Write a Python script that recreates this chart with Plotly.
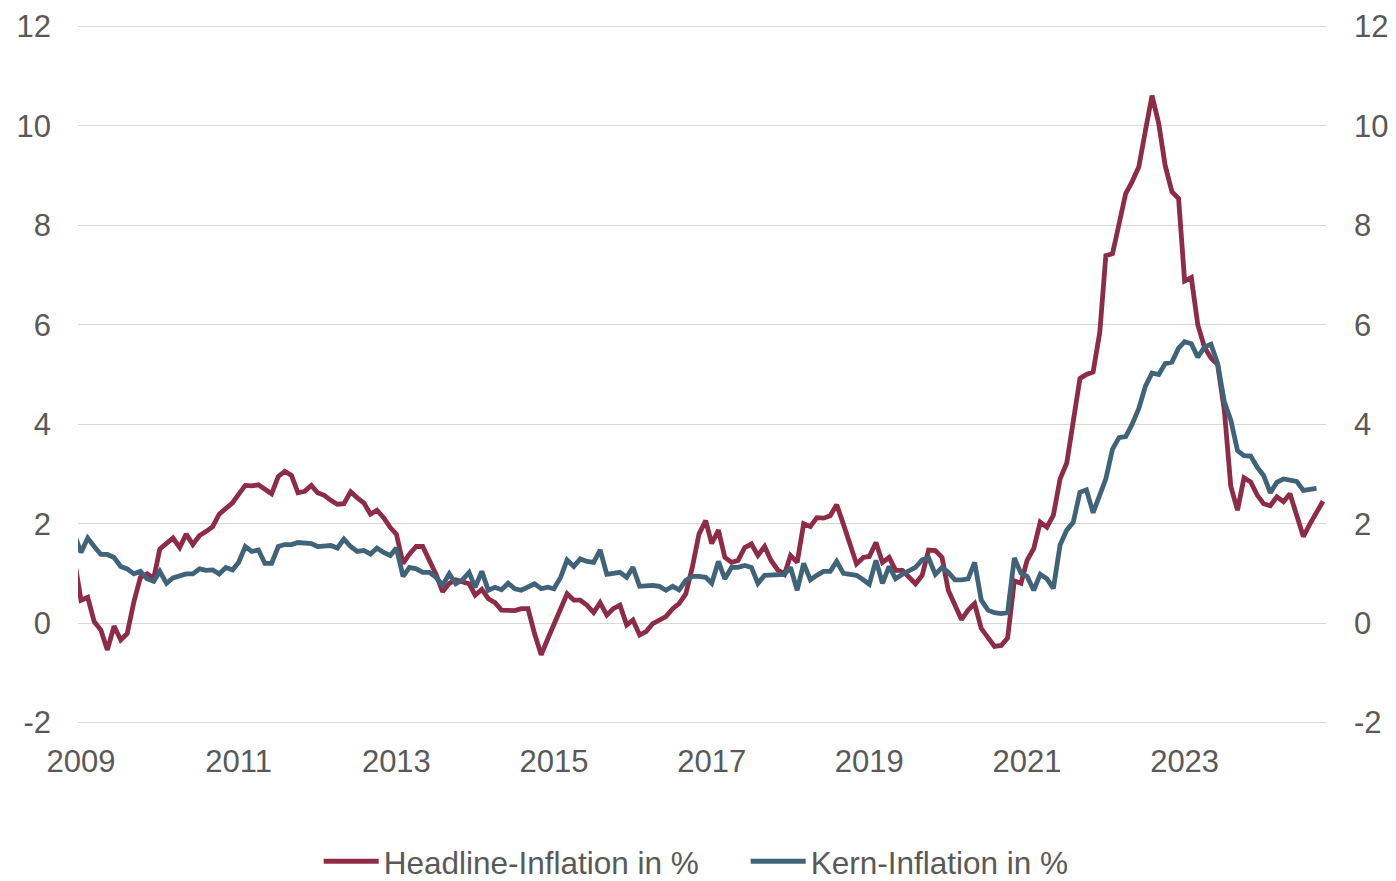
import pandas as pd
import plotly.graph_objects as go

# Monthly values, Jan 2009 onwards
headline = [
    1.1, 1.2, 0.46, 0.52, 0.03, -0.14, -0.54, -0.06, -0.34, -0.21, 0.43, 0.92,   # 2009
    0.99, 0.9, 1.49, 1.59, 1.71, 1.52, 1.79, 1.58, 1.76, 1.84, 1.94, 2.19,       # 2010
    2.31, 2.42, 2.59, 2.77, 2.76, 2.78, 2.69, 2.6, 2.95, 3.05, 2.97, 2.62,       # 2011
    2.65, 2.77, 2.62, 2.57, 2.47, 2.39, 2.4, 2.64, 2.52, 2.42, 2.19, 2.27,       # 2012
    2.12, 1.92, 1.79, 1.2, 1.39, 1.54, 1.54, 1.26, 0.98, 0.63, 0.8, 0.87,        # 2013
    0.82, 0.79, 0.56, 0.68, 0.49, 0.41, 0.26, 0.25, 0.25, 0.29, 0.29, -0.21,     # 2014
    -0.64, -0.31, -0.01, 0.26, 0.59, 0.46, 0.46, 0.36, 0.21, 0.41, 0.16, 0.29,   # 2015
    0.36, -0.04, 0.06, -0.24, -0.17, -0.01, 0.06, 0.13, 0.29, 0.39, 0.59, 1.12,  # 2016
    1.79, 2.06, 1.6, 1.87, 1.32, 1.22, 1.26, 1.52, 1.59, 1.36, 1.54, 1.26,       # 2017
    1.07, 0.98, 1.36, 1.22, 2.0, 1.94, 2.12, 2.11, 2.16, 2.38, 1.99, 1.59,       # 2018
    1.19, 1.32, 1.34, 1.62, 1.22, 1.32, 1.06, 1.06, 0.92, 0.79, 0.96, 1.47,      # 2019
    1.46, 1.32, 0.66, 0.36, 0.07, 0.26, 0.39, -0.11, -0.31, -0.47, -0.45, -0.3,  # 2020
    0.85, 0.8, 1.26, 1.5, 2.03, 1.93, 2.17, 2.9, 3.22, 4.05, 4.92, 5.0,          # 2021
    5.05, 5.85, 7.39, 7.43, 8.05, 8.64, 8.88, 9.18, 9.92, 10.61, 10.05, 9.2,     # 2022
    8.68, 8.54, 6.88, 6.95, 6.0, 5.55, 5.33, 5.2, 4.28, 2.75, 2.27, 2.92,        # 2023
    2.84, 2.57, 2.4, 2.36, 2.54, 2.44, 2.6, 2.17, 1.74, 1.99, 2.22, 2.45,        # 2024
]

core = [
    1.6, 1.75, 1.42, 1.71, 1.54, 1.38, 1.38, 1.32, 1.14, 1.09, 0.99, 1.04,       # 2009
    0.89, 0.84, 1.04, 0.8, 0.91, 0.96, 0.99, 0.99, 1.09, 1.06, 1.07, 0.99,       # 2010
    1.12, 1.07, 1.22, 1.54, 1.44, 1.47, 1.2, 1.2, 1.54, 1.58, 1.58, 1.62,        # 2011
    1.6, 1.6, 1.54, 1.54, 1.56, 1.51, 1.69, 1.54, 1.44, 1.46, 1.39, 1.51,        # 2012
    1.42, 1.36, 1.51, 0.94, 1.12, 1.09, 1.02, 1.02, 0.92, 0.76, 0.99, 0.79,      # 2013
    0.87, 1.02, 0.72, 1.04, 0.66, 0.72, 0.67, 0.8, 0.69, 0.66, 0.72, 0.79,       # 2014
    0.69, 0.72, 0.69, 0.92, 1.27, 1.14, 1.29, 1.24, 1.22, 1.47, 0.98, 1.0,       # 2015
    1.02, 0.92, 1.12, 0.74, 0.76, 0.76, 0.74, 0.66, 0.74, 0.67, 0.86, 0.94,      # 2016
    0.94, 0.92, 0.8, 1.24, 0.89, 1.12, 1.12, 1.16, 1.12, 0.8, 0.96, 0.96,        # 2017
    0.96, 0.98, 1.12, 0.66, 1.2, 0.87, 0.96, 1.04, 1.04, 1.24, 1.0, 0.99,        # 2018
    0.96, 0.87, 0.78, 1.26, 0.8, 1.14, 0.89, 0.98, 1.06, 1.12, 1.27, 1.31,       # 2019
    0.98, 1.12, 1.02, 0.87, 0.87, 0.89, 1.22, 0.46, 0.26, 0.21, 0.19, 0.21,      # 2020
    1.31, 1.0, 0.94, 0.66, 0.98, 0.89, 0.7, 1.57, 1.87, 2.03, 2.63, 2.68,        # 2021
    2.22, 2.58, 2.9, 3.5, 3.73, 3.75, 4.0, 4.32, 4.77, 5.03, 5.0, 5.22,          # 2022
    5.25, 5.53, 5.66, 5.62, 5.35, 5.55, 5.61, 5.22, 4.45, 4.08, 3.47, 3.37,      # 2023
    3.36, 3.13, 2.97, 2.62, 2.83, 2.9, 2.88, 2.85, 2.67, 2.69, 2.71,             # 2024
]

headline_dates = pd.date_range("2009-01-01", periods=len(headline), freq="MS")
core_dates = pd.date_range("2009-01-01", periods=len(core), freq="MS")

tick_years = ["2009", "2011", "2013", "2015", "2017", "2019", "2021", "2023"]
tick_positions = [f"{y}-03-01" for y in tick_years]
y_ticks = [-2, 0, 2, 4, 6, 8, 10, 12]
y_ticktext = ["-2", "0", "2", "4", "6", "8", "10", "12"]
y_range = [-2.03, 12.03]

RED = "#8E2B47"
BLUE = "#40637A"
GREY = "#595959"
FONT = "Arial, Liberation Sans, sans-serif"

fig = go.Figure()
fig.add_trace(go.Scatter(
    x=headline_dates, y=headline, mode="lines", name="Headline-Inflation in %",
    line=dict(color=RED, width=4.8),
))
fig.add_trace(go.Scatter(
    x=core_dates, y=core, mode="lines", name="Kern-Inflation in %",
    line=dict(color=BLUE, width=4.8),
))
# empty trace so that the mirrored right-hand axis is drawn
fig.add_trace(go.Scatter(x=[], y=[], yaxis="y2", showlegend=False, hoverinfo="skip"))

# page body has an 8px margin, so the figure is 1388x873 placed at (8, 8)
fig.update_layout(
    width=1388, height=873,
    margin=dict(l=70, r=70, t=16.5, b=156.5, autoexpand=False),
    paper_bgcolor="white", plot_bgcolor="white",
    font=dict(family=FONT, size=31, color=GREY),
    showlegend=True,
    legend=dict(
        orientation="h", x=0.535, xanchor="center", y=-0.1965, yanchor="middle",
        font=dict(family=FONT, size=31.5, color=GREY),
        itemwidth=55, itemsizing="constant", tracegroupgap=0,
        entrywidth=357,
    ),
    xaxis=dict(
        type="date", automargin=False,
        range=["2009-02-15", "2024-12-15"],
        tickmode="array", tickvals=tick_positions, ticktext=tick_years,
        showgrid=False, zeroline=False, showline=False,
        ticks="", ticklabelstandoff=16,
        tickfont=dict(family=FONT, size=31, color=GREY),
    ),
    yaxis=dict(
        range=y_range, automargin=False,
        tickmode="array", tickvals=y_ticks, ticktext=y_ticktext,
        showgrid=True, gridcolor="#D9D9D9", gridwidth=1.4,
        zeroline=False, showline=False, ticks="",
        ticklabelstandoff=26, ticklabeloverflow="allow",
        tickfont=dict(family=FONT, size=31, color=GREY),
    ),
    yaxis2=dict(
        range=y_range, automargin=False,
        tickmode="array", tickvals=y_ticks, ticktext=y_ticktext,
        overlaying="y", side="right", anchor="x",
        showgrid=False, zeroline=False, showline=False, ticks="",
        ticklabelstandoff=27, ticklabeloverflow="allow",
        tickfont=dict(family=FONT, size=31, color=GREY),
    ),
)

fig.write_html("out.html")
